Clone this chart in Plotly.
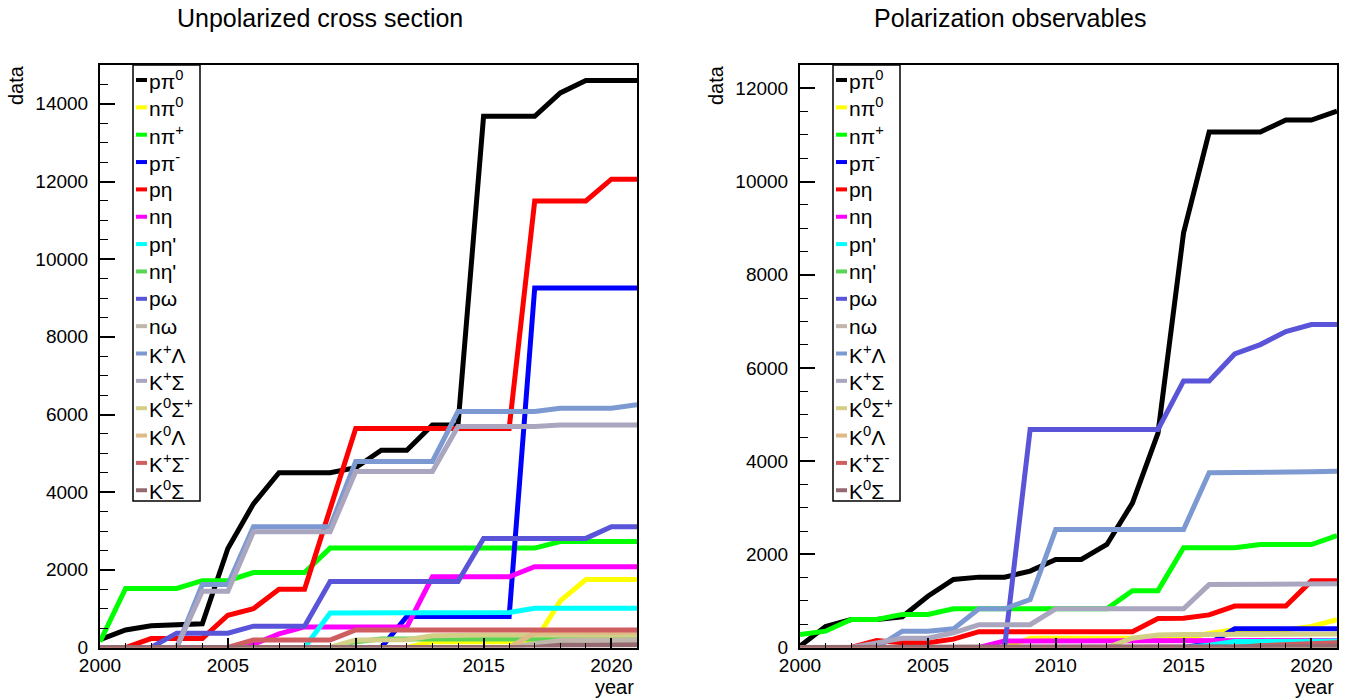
import plotly.graph_objects as go

# ---------------- data ----------------
years = list(range(2000, 2022))

labels = ["pπ<sup>0</sup>", "nπ<sup>0</sup>", "nπ<sup>+</sup>", "pπ<sup>-</sup>", "pη", "nη",
          "pη'", "nη'", "pω", "nω", "K<sup>+</sup>Λ", "K<sup>+</sup>Σ",
          "K<sup>0</sup>Σ<sup>+</sup>", "K<sup>0</sup>Λ", "K<sup>+</sup>Σ<sup>-</sup>", "K<sup>0</sup>Σ"]

colors = ["#000000", "#ffff00", "#00ff00", "#0000ff", "#ff0000", "#ff00ff",
          "#00ffff", "#59d454", "#5954d8", "#c0b6ac", "#7d99d1", "#aba6bf",
          "#d4cf87", "#deba87", "#cf5e61", "#946970"]

# Unpolarized cross section (left panel), one value per year 2000..2021
unpol_p_pi0  = [200, 450, 560, 570, 610, 2550, 3700, 4500, 4500, 4500, 4630, 5080, 5080, 5730, 5730, 13680, 13680, 13680, 14280, 14600, 14600, 14600]
unpol_n_pi0  = [0, 0, 0, 0, 0, 0, 0, 0, 0, 0, 0, 0, 0, 150, 150, 150, 150, 150, 1200, 1750, 1750, 1750]
unpol_n_pip  = [150, 1520, 1520, 1520, 1720, 1720, 1930, 1930, 1930, 2560, 2560, 2560, 2560, 2560, 2560, 2560, 2560, 2560, 2730, 2730, 2730, 2730]
unpol_p_pim  = [0, 0, 0, 0, 0, 0, 0, 0, 0, 0, 0, 0, 800, 800, 800, 800, 800, 9260, 9260, 9260, 9260, 9260]
unpol_p_eta  = [0, 0, 230, 230, 230, 830, 1000, 1500, 1500, 3570, 5640, 5640, 5640, 5640, 5640, 5640, 5640, 11500, 11500, 11500, 12060, 12060]
unpol_n_eta  = [0, 0, 0, 0, 0, 0, 80, 350, 530, 530, 530, 530, 530, 1820, 1820, 1820, 1820, 2080, 2080, 2080, 2080, 2080]
unpol_p_etap = [0, 0, 0, 0, 0, 0, 0, 0, 0, 890, 890, 890, 890, 890, 900, 900, 900, 1010, 1010, 1010, 1010, 1010]
unpol_n_etap = [0, 0, 0, 0, 0, 0, 0, 0, 0, 0, 150, 220, 220, 220, 220, 220, 220, 220, 220, 220, 220, 220]
unpol_p_omg  = [0, 0, 0, 370, 370, 370, 550, 550, 550, 1700, 1700, 1700, 1700, 1700, 1700, 2810, 2810, 2810, 2810, 2810, 3110, 3110]
unpol_n_omg  = [0, 0, 0, 0, 0, 0, 0, 0, 0, 0, 0, 0, 0, 0, 0, 0, 0, 100, 180, 190, 190, 190]
unpol_kp_lam = [0, 0, 0, 0, 1620, 1620, 3110, 3110, 3110, 3110, 4790, 4790, 4790, 4790, 6080, 6080, 6080, 6080, 6160, 6160, 6160, 6250]
unpol_kp_sig = [0, 0, 0, 0, 1450, 1450, 2980, 2980, 2980, 2980, 4530, 4530, 4530, 4530, 5690, 5690, 5690, 5690, 5730, 5730, 5730, 5730]
unpol_k0_sigp = [0, 0, 0, 0, 0, 0, 0, 0, 0, 0, 190, 190, 200, 300, 320, 320, 320, 320, 320, 320, 320, 320]
unpol_k0_lam = [0, 0, 0, 0, 0, 0, 0, 0, 0, 0, 0, 0, 0, 0, 0, 0, 0, 380, 390, 390, 390, 390]
unpol_kp_sigm = [0, 0, 0, 0, 0, 0, 190, 190, 190, 190, 450, 450, 450, 450, 450, 450, 450, 450, 450, 450, 450, 450]
unpol_k0_sig = [0, 0, 0, 0, 0, 0, 0, 0, 0, 0, 0, 0, 0, 0, 0, 0, 0, 0, 60, 70, 70, 70]

# Polarization observables (right panel)
pol_p_pi0  = [30, 450, 600, 600, 660, 1100, 1460, 1510, 1510, 1640, 1890, 1890, 2210, 3100, 4600, 8900, 11060, 11060, 11060, 11320, 11320, 11510]
pol_n_pi0  = [0, 0, 0, 0, 0, 0, 0, 0, 0, 200, 200, 200, 200, 200, 200, 200, 300, 380, 380, 380, 450, 600]
pol_n_pip  = [280, 350, 600, 600, 710, 710, 830, 830, 830, 830, 830, 830, 830, 1220, 1220, 2140, 2140, 2140, 2210, 2210, 2210, 2400]
pol_p_pim  = [0, 0, 0, 0, 0, 0, 0, 0, 0, 0, 0, 0, 0, 0, 0, 0, 80, 400, 400, 400, 400, 400]
pol_p_eta  = [0, 0, 0, 150, 100, 100, 180, 340, 340, 340, 340, 340, 340, 340, 620, 630, 700, 890, 890, 890, 1430, 1430]
pol_n_eta  = [0, 0, 0, 0, 0, 0, 0, 0, 140, 140, 140, 140, 140, 140, 140, 140, 150, 150, 150, 150, 150, 150]
pol_p_etap = [0, 0, 0, 0, 0, 0, 0, 0, 0, 0, 0, 0, 0, 0, 0, 0, 50, 130, 130, 140, 140, 140]
pol_n_etap = [0, 0, 0, 0, 0, 0, 0, 0, 0, 0, 0, 0, 0, 0, 0, 0, 0, 0, 40, 40, 40, 40]
pol_p_omg  = [0, 0, 0, 0, 0, 0, 0, 0, 0, 4680, 4680, 4680, 4680, 4680, 4680, 5720, 5720, 6300, 6500, 6780, 6930, 6930]
pol_n_omg  = [0] * 22
pol_kp_lam = [0, 0, 0, 0, 350, 350, 400, 830, 830, 1030, 2530, 2530, 2530, 2530, 2530, 2530, 3750, 3750, 3770, 3770, 3770, 3780]
pol_kp_sig = [0, 0, 0, 100, 200, 200, 315, 490, 490, 490, 830, 830, 830, 830, 830, 830, 1350, 1350, 1360, 1360, 1360, 1370]
pol_k0_sigp = [0, 0, 0, 0, 0, 0, 0, 0, 0, 0, 0, 0, 0, 200, 270, 280, 280, 280, 290, 290, 290, 290]
pol_k0_lam = [0] * 22
pol_kp_sigm = [0, 0, 0, 0, 0, 0, 0, 0, 0, 0, 0, 0, 0, 0, 0, 0, 0, 0, 40, 60, 80, 100]
pol_k0_sig = [0, 0, 0, 0, 0, 0, 0, 0, 0, 0, 0, 0, 0, 0, 0, 0, 0, 0, 0, 0, 20, 30]

unpol_series = [unpol_p_pi0, unpol_n_pi0, unpol_n_pip, unpol_p_pim, unpol_p_eta, unpol_n_eta,
                unpol_p_etap, unpol_n_etap, unpol_p_omg, unpol_n_omg, unpol_kp_lam, unpol_kp_sig,
                unpol_k0_sigp, unpol_k0_lam, unpol_kp_sigm, unpol_k0_sig]
pol_series = [pol_p_pi0, pol_n_pi0, pol_n_pip, pol_p_pim, pol_p_eta, pol_n_eta,
              pol_p_etap, pol_n_etap, pol_p_omg, pol_n_omg, pol_kp_lam, pol_kp_sig,
              pol_k0_sigp, pol_k0_lam, pol_kp_sigm, pol_k0_sig]

# ---------------- layout helpers ----------------
W, H = 1353, 700
FONT = "Liberation Sans, Arial, Helvetica, sans-serif"


def px(x):
    return x / W


def py(y):
    return 1 - y / H


frame_top, frame_bot = 65, 647.5
left_x0, left_x1 = 100, 637
right_x0, right_x1 = 800, 1337

fig = go.Figure()

for vals, col in zip(unpol_series, colors):
    fig.add_trace(go.Scatter(x=years, y=vals, mode="lines", line=dict(color=col, width=5),
                             cliponaxis=False, xaxis="x", yaxis="y", showlegend=False))
for vals, col in zip(pol_series, colors):
    fig.add_trace(go.Scatter(x=years, y=vals, mode="lines", line=dict(color=col, width=5),
                             cliponaxis=False, xaxis="x2", yaxis="y2", showlegend=False))


def xaxis_cfg(x0, x1, anchor):
    return dict(domain=[px(x0), px(x1)], range=[2000, 2021], anchor=anchor, automargin=False,
                tick0=2000, dtick=5, ticks="inside", ticklen=10, tickwidth=1.5, tickcolor="black",
                minor=dict(dtick=1, ticks="inside", ticklen=5, tickwidth=1, tickcolor="black", showgrid=False),
                showline=True, mirror=True, linecolor="black", linewidth=2,
                showgrid=False, zeroline=False, tickformat="d", ticklabelstandoff=0,
                tickfont=dict(family=FONT, size=19, color="black"))


def yaxis_cfg(ymax, anchor):
    return dict(domain=[py(frame_bot), py(frame_top)], range=[0, ymax], anchor=anchor, automargin=False,
                tick0=0, dtick=2000, ticks="inside", ticklen=15, tickwidth=1.5, tickcolor="black",
                minor=dict(dtick=500, ticks="inside", ticklen=8, tickwidth=1, tickcolor="black", showgrid=False),
                showline=True, mirror=True, linecolor="black", linewidth=2,
                showgrid=False, zeroline=False, ticklabelstandoff=6, tickformat="d",
                tickfont=dict(family=FONT, size=19, color="black"))


shapes = []
annotations = []

for (x0, x1, tx, title) in [(left_x0, left_x1, 320, "Unpolarized cross section"),
                            (right_x0, right_x1, 1010, "Polarization observables")]:
    # panel title
    annotations.append(dict(x=px(tx), y=py(18), xref="paper", yref="paper",
                            text=title, showarrow=False, xanchor="center", yanchor="middle",
                            font=dict(family=FONT, size=25, color="black")))
    # axis titles
    annotations.append(dict(x=px(x0 - 84), y=py(frame_top - 2), xref="paper", yref="paper",
                            text="data", textangle=-90, showarrow=False, xanchor="center", yanchor="top",
                            font=dict(family=FONT, size=20, color="black")))
    annotations.append(dict(x=px(x1 - 1), y=py(687), xref="paper", yref="paper",
                            text="year", showarrow=False, xanchor="right", yanchor="middle",
                            font=dict(family=FONT, size=20, color="black")))
    # legend box
    lx0, lx1 = x0 + 33, x0 + 100
    shapes.append(dict(type="rect", xref="paper", yref="paper",
                       x0=px(lx0), x1=px(lx1), y0=py(501), y1=py(frame_top),
                       line=dict(color="black", width=1.5), fillcolor="white", layer="above"))
    for i, (lab, col) in enumerate(zip(labels, colors)):
        yy = 80 + 27.35 * i
        shapes.append(dict(type="line", xref="paper", yref="paper",
                           x0=px(lx0 + 3), x1=px(lx0 + 14), y0=py(yy), y1=py(yy),
                           line=dict(color=col, width=4), layer="above"))
        annotations.append(dict(x=px(lx0 + 14), y=py(yy), xref="paper", yref="paper",
                                text=lab, showarrow=False, xanchor="left", yanchor="middle",
                                font=dict(family=FONT, size=21, color="black")))

fig.update_layout(
    width=W, height=H, margin=dict(l=0, r=0, t=0, b=0),
    paper_bgcolor="white", plot_bgcolor="white",
    xaxis=xaxis_cfg(left_x0, left_x1, "y"),
    yaxis=yaxis_cfg(15000, "x"),
    xaxis2=xaxis_cfg(right_x0, right_x1, "y2"),
    yaxis2=yaxis_cfg(12500, "x2"),
    shapes=shapes, annotations=annotations, showlegend=False,
)

fig.write_html("out.html")
